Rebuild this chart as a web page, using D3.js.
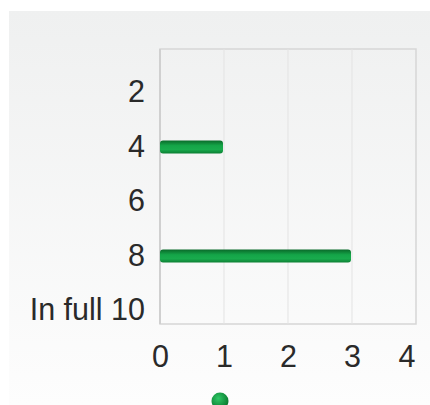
<!DOCTYPE html>
<html>
<head>
<meta charset="utf-8">
<script src="https://cdn.jsdelivr.net/npm/d3@7"></script>
<style>
  body { margin: 0; background: #fff; }
  svg { display: block; }
</style>
</head>
<body>
<div id="viz"></div>
<script>
// data
const categories = ['2', '4', '6', '8', 'In full 10']
const values = [0, 1, 0, 3, 0]
const xTicks = [0, 1, 2, 3, 4]

let width = 430,
    height = 405

let svg = d3.select('#viz')
            .append('svg')
            .attr('width', width)
            .attr('height', height)
            .style('font-family', 'Liberation Sans, Arial, sans-serif')

let defs = svg.append('defs')

let bg = defs.append('linearGradient')
             .attr('id', 'bg')
             .attr('x1', 0).attr('y1', 0).attr('x2', 0).attr('y2', 1)
bg.append('stop').attr('offset', '0%').attr('stop-color', '#eff0f0')
bg.append('stop').attr('offset', '100%').attr('stop-color', '#fdfdfd')

let barGrad = defs.append('linearGradient')
                  .attr('id', 'barGrad')
                  .attr('x1', 0).attr('y1', 0).attr('x2', 0).attr('y2', 1)
barGrad.append('stop').attr('offset', '0%').attr('stop-color', '#0a6a2a')
barGrad.append('stop').attr('offset', '40%').attr('stop-color', '#14a548')
barGrad.append('stop').attr('offset', '70%').attr('stop-color', '#19ab4d')
barGrad.append('stop').attr('offset', '100%').attr('stop-color', '#0c7f33')

let dotGrad = defs.append('radialGradient')
                  .attr('id', 'dotGrad')
                  .attr('cx', '40%').attr('cy', '35%').attr('r', '65%')
dotGrad.append('stop').attr('offset', '0%').attr('stop-color', '#2fc866')
dotGrad.append('stop').attr('offset', '100%').attr('stop-color', '#08792e')

// background panel
svg.append('rect')
   .attr('x', 9)
   .attr('y', 11)
   .attr('width', width - 9)
   .attr('height', height - 11)
   .style('fill', 'url(#bg)')

let plot = { left: 160, right: 416, top: 49, bottom: 324 }

// x scale
let xScale = d3.scaleLinear()
               .domain([0, 4])
               .range([plot.left, plot.right])

// y scale (bands sit a bit lower than the frame, as in the original)
let yScale = d3.scaleBand()
               .domain(categories)
               .range([65, 338])

// plot frame
svg.append('rect')
   .attr('x', plot.left)
   .attr('y', plot.top)
   .attr('width', plot.right - plot.left)
   .attr('height', plot.bottom - plot.top)
   .style('fill', 'none')
   .style('stroke', '#d6d6d6')
   .style('stroke-width', 1.5)

// grid
svg.selectAll('.grid')
   .data(xTicks.slice(1, -1))
   .enter()
     .append('line')
     .attr('x1', d => xScale(d))
     .attr('x2', d => xScale(d))
     .attr('y1', plot.top)
     .attr('y2', plot.bottom)
     .style('stroke', '#e3e3e3')
     .style('stroke-width', 1)

// left axis line
svg.append('line')
   .attr('x1', plot.left).attr('x2', plot.left)
   .attr('y1', plot.top).attr('y2', plot.bottom)
   .style('stroke', '#d0d0d0')
   .style('stroke-width', 2)

// x axis
let xAxis = svg.append('g')
               .attr('transform', `translate(0, ${plot.bottom + 21})`)
               .call(d3.axisBottom(xScale).tickValues(xTicks).tickFormat(d3.format('d')).tickSize(0).tickPadding(0))
xAxis.select('.domain').remove()
xAxis.selectAll('text')
     .attr('dy', '0.71em')
     .style('font-size', '30.5px')
     .style('font-family', 'Liberation Sans, Arial, sans-serif')
     .style('fill', '#2a2a2a')
// last label is pulled inside the frame
xAxis.selectAll('.tick text')
     .filter(d => d === xTicks[xTicks.length - 1])
     .attr('text-anchor', 'end')
     .attr('x', -1)

// y axis
let yAxis = svg.append('g')
               .attr('transform', `translate(${plot.left - 15}, 0)`)
               .call(d3.axisLeft(yScale).tickSize(0).tickPadding(0))
yAxis.select('.domain').remove()
yAxis.selectAll('text')
     .style('font-size', '30.5px')
     .style('font-family', 'Liberation Sans, Arial, sans-serif')
     .style('fill', '#2a2a2a')

// bars
let barH = 13
svg.selectAll('.bar')
   .data(values.map((v, i) => ({ cat: categories[i], v: v })).filter(d => d.v > 0))
   .enter()
     .append('rect')
     .attr('class', 'bar')
     .attr('x', xScale(0))
     .attr('y', d => yScale(d.cat) + yScale.bandwidth() / 2 - barH / 2)
     .attr('width', d => xScale(d.v) - xScale(0) - 1)
     .attr('height', barH)
     .attr('rx', 3)
     .style('fill', 'url(#barGrad)')

// legend dot
svg.append('circle')
   .attr('cx', 220)
   .attr('cy', 401)
   .attr('r', 8.5)
   .style('fill', 'url(#dotGrad)')
</script>
</body>
</html>
